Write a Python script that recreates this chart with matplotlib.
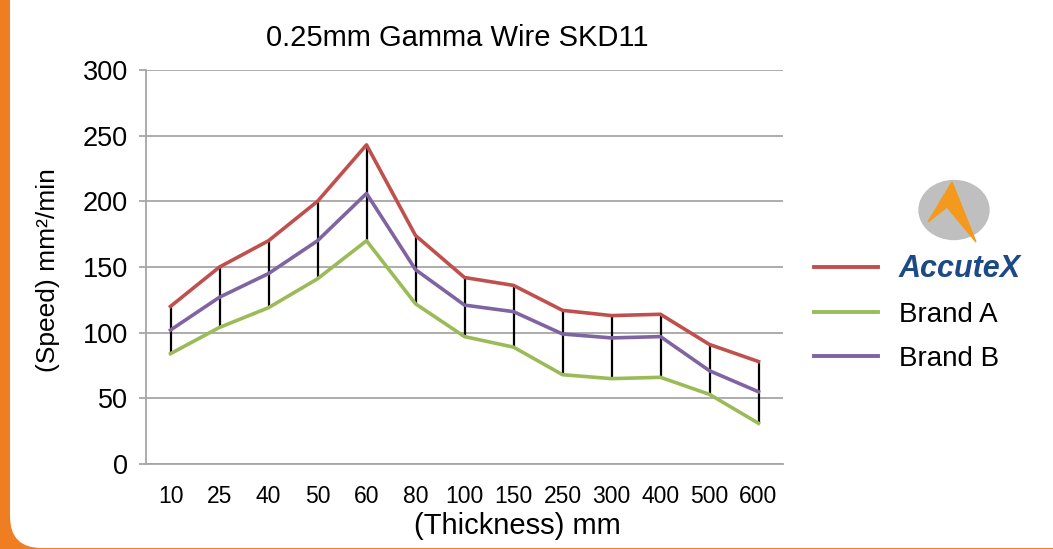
import numpy as np
import matplotlib
matplotlib.use("Agg")
import matplotlib.pyplot as plt
from matplotlib.patches import FancyBboxPatch, Ellipse, Polygon
from matplotlib.lines import Line2D

plt.rcParams['font.family'] = ['Liberation Sans', 'DejaVu Sans']

# data
thickness = ['10', '25', '40', '50', '60', '80', '100', '150', '250', '300', '400', '500', '600']
accutex = [120, 150, 170, 200, 243, 174, 142, 136, 117, 113, 114, 91, 78]
brand_a = [84, 104, 119, 141, 170, 122, 97, 89, 68, 65, 66, 53, 31]
brand_b = [102, 127, 145, 170, 206, 148, 121, 116, 99, 96, 97, 71, 55]

red = '#C0504D'
green = '#9BBB59'
purple = '#8064A2'
grid = '#A6A6A6'
orange = '#EF7D22'

W, H = 1053, 549
fig = plt.figure(figsize=(W / 100, H / 100), dpi=100, facecolor=orange)

# white rounded panel
panel = FancyBboxPatch((10 / W, 1 / H), 1.2, 1.2, boxstyle='round,pad=0,rounding_size=0.03',
                       transform=fig.transFigure, facecolor='white', edgecolor='none',
                       mutation_aspect=W / H, zorder=-5)
fig.patches.append(panel)

ax = fig.add_axes([146 / W, 1 - 464 / H, 637 / W, 394 / H])
ax.set_facecolor('none')
x = np.arange(len(thickness))

ax.vlines(x, brand_a, accutex, color='black', lw=1.6, zorder=2)
ax.plot(x, accutex, color=red, lw=2.6, zorder=3)
ax.plot(x, brand_a, color=green, lw=2.6, zorder=3)
ax.plot(x, brand_b, color=purple, lw=2.6, zorder=3)

ax.set_xlim(-0.5, len(thickness) - 0.5)
ax.set_ylim(0, 300)
ax.set_yticks(np.arange(0, 301, 50))
ax.set_xticks(x)
ax.set_xticklabels(thickness, fontsize=16.5)
ax.tick_params(axis='x', length=0, pad=15)
ax.tick_params(axis='y', length=5, color=grid, width=1.3, labelsize=19.5, pad=8)
ax.yaxis.grid(True, color=grid, lw=1.3)
ax.set_axisbelow(True)
for s in ['top', 'right']:
    ax.spines[s].set_visible(False)
for s in ['left', 'bottom']:
    ax.spines[s].set_color(grid)
    ax.spines[s].set_linewidth(1.3)

fig.text(457 / W, 1 - 38 / H, '0.25mm Gamma Wire SKD11', ha='center', va='center', fontsize=21)
fig.text(517 / W, 1 - 526 / H, '(Thickness) mm', ha='center', va='center', fontsize=21)
fig.text(48 / W, 1 - 270 / H, '(Speed) mm²/min', ha='center', va='center', rotation=90, fontsize=19)

# legend
handles = [Line2D([], [], color=red, lw=2.8),
           Line2D([], [], color=green, lw=2.8),
           Line2D([], [], color=purple, lw=2.8)]
leg = fig.legend(handles, ['AccuteX', 'Brand A', 'Brand B'], loc='upper left',
                 bbox_to_anchor=(789 / W, 1 - 229 / H), frameon=False, fontsize=20,
                 handlelength=2.3, handletextpad=0.75, labelspacing=0.65)
t0 = leg.get_texts()[0]
t0.set_fontweight('bold')
t0.set_fontstyle('italic')
t0.set_fontsize(22)
t0.set_color('#1B4A86')

# logo above AccuteX
logo = fig.add_axes([0, 0, 1, 1], facecolor='none')
logo.set_xlim(0, W)
logo.set_ylim(H, 0)
logo.axis('off')
logo.add_patch(Ellipse((954, 210), 70, 59, color='#BFBFBF'))
logo.add_patch(Polygon([(952, 182), (928, 222), (947, 207), (976, 242)], closed=True, color='#F39A1E'))

fig.savefig('out.png', dpi=100, facecolor=orange)
